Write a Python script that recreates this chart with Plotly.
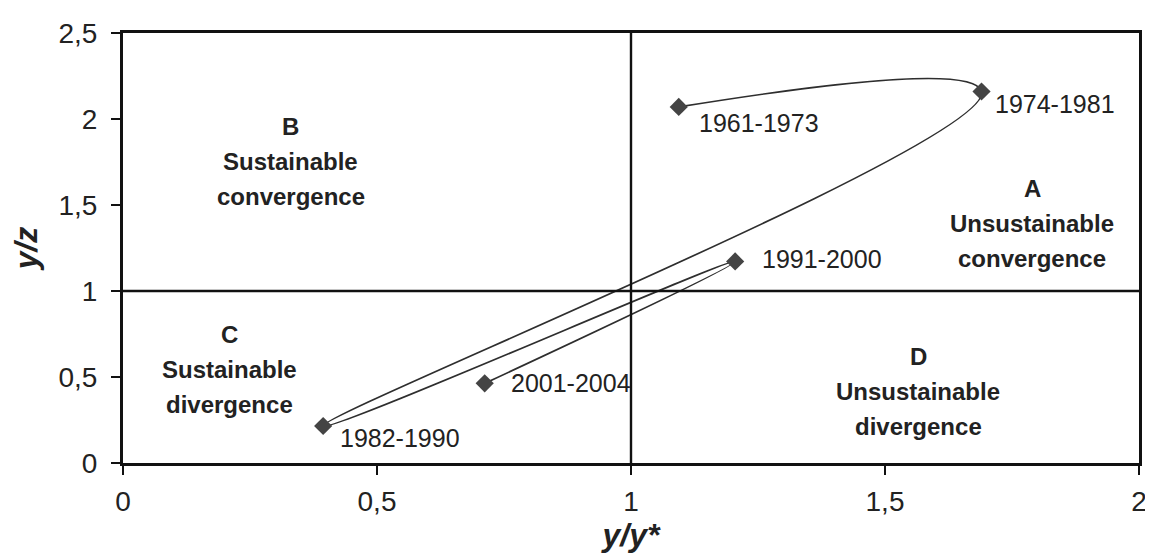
import plotly.graph_objects as go

# ---- data ----
periods = ["1961-1973", "1974-1981", "1982-1990", "1991-2000", "2001-2004"]
y_over_ystar = [1.094, 1.69, 0.394, 1.205, 0.712]
y_over_z = [2.07, 2.16, 0.215, 1.172, 0.463]

x_ticks = [0, 0.5, 1, 1.5, 2]
y_ticks = [0, 0.5, 1, 1.5, 2, 2.5]

quadrant_letters = ["A", "B", "C", "D"]
quadrant_line1 = ["Unsustainable", "Sustainable", "Sustainable", "Unsustainable"]
quadrant_line2 = ["convergence", "convergence", "divergence", "divergence"]
quadrant_x = [1.79, 0.33, 0.21, 1.565]
quadrant_y = [1.39, 1.755, 0.545, 0.413]

# label offsets (pixels) for the period labels
label_dx = [18, 11, 15, 25, 24]
label_dy = [-16, -13, -12, 2, 0]

FONT = "Liberation Sans, Arial, sans-serif"
INK = "#222222"

fig = go.Figure()

fig.add_trace(go.Scatter(
    x=y_over_ystar, y=y_over_z,
    mode="lines+markers",
    line=dict(color="#2e2e2e", width=1.7, shape="spline", smoothing=1.3),
    marker=dict(symbol="diamond", size=14, color="#444444"),
    showlegend=False,
    hoverinfo="skip",
))

annotations = []
for p, x, y, dx, dy in zip(periods, y_over_ystar, y_over_z, label_dx, label_dy):
    annotations.append(dict(
        x=x, y=y, xref="x", yref="y", text=p, showarrow=False,
        xanchor="left", yanchor="middle", xshift=dx, yshift=dy,
        font=dict(family=FONT, size=25, color=INK),
    ))

LINE_GAP = 35
for L, l1, l2, qx, qy in zip(quadrant_letters, quadrant_line1, quadrant_line2, quadrant_x, quadrant_y):
    for txt, shift in ((L, LINE_GAP), (l1, 0), (l2, -LINE_GAP)):
        annotations.append(dict(
            x=qx, y=qy, xref="x", yref="y", text="<b>" + txt + "</b>", showarrow=False,
            xanchor="center", yanchor="middle", yshift=shift,
            font=dict(family=FONT, size=24, color=INK),
        ))

shapes = [
    dict(type="line", xref="x", yref="paper", x0=1, x1=1, y0=0, y1=1,
         line=dict(color="#111111", width=2.4)),
    dict(type="line", xref="paper", yref="y", x0=0, x1=1, y0=1, y1=1,
         line=dict(color="#111111", width=2.4)),
]

# the page body adds an 8px margin, so the figure is sized to compensate
fig.update_layout(
    width=1145, height=548,
    margin=dict(l=115, r=6, t=25, b=93),
    paper_bgcolor="white", plot_bgcolor="white",
    separators=", ",
    font=dict(family=FONT, color=INK),
    annotations=annotations,
    shapes=shapes,
    xaxis=dict(
        range=[0, 2], tickvals=x_ticks, showgrid=False, zeroline=False,
        showline=True, linecolor="#111111", linewidth=3, mirror=True,
        ticks="outside", ticklen=9, tickwidth=2, tickcolor="#111111",
        ticklabelstandoff=2,
        tickfont=dict(family=FONT, size=28, color=INK),
        title=dict(text="<b><i>y/y*</i></b>", font=dict(family=FONT, size=32, color=INK), standoff=6),
    ),
    yaxis=dict(
        range=[0, 2.5], tickvals=y_ticks, showgrid=False, zeroline=False,
        showline=True, linecolor="#111111", linewidth=3, mirror=True,
        ticks="outside", ticklen=9, tickwidth=2, tickcolor="#111111",
        ticklabelstandoff=8,
        tickfont=dict(family=FONT, size=28, color=INK),
        title=dict(text="<b><i>y/z</i></b>", font=dict(family=FONT, size=32, color=INK), standoff=12),
    ),
)

fig.write_html("out.html")
